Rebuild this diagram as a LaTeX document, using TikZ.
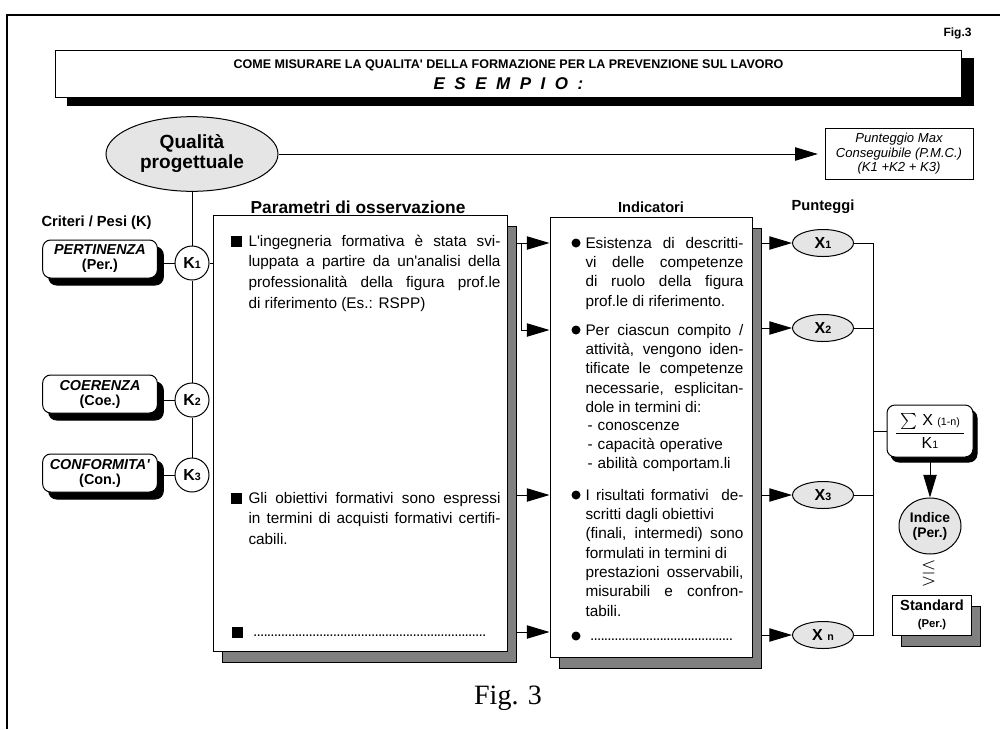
\documentclass[tikz,border=0pt]{standalone}
\usepackage{fontspec}
\usepackage{amsmath,amssymb}
\setmainfont{Liberation Sans}
\newfontfamily\serifa{Liberation Serif}
\usetikzlibrary{arrows.meta,shapes.geometric,shadows}

\definecolor{grigiochiaro}{gray}{0.9}
\definecolor{grigioombra}{gray}{0.5}

\newcommand{\ap}{\textquotesingle}
\newcommand{\pedice}[1]{{\fontsize{8}{8}\selectfont #1}}
\newcommand{\lspz}{\hspace{.56em}}
\newcommand{\puntini}[1]{\hbox to #1{\leaders\hbox to 2.6pt{\hss.\hss}\hfill}}

\tikzset{
  freccia/.style={-{Triangle[length=17pt,width=10pt]}},
  testo/.style={inner sep=0pt, anchor=base west, align=justify},
  corpo/.style={testo, text width=189pt, font=\fontsize{11.5}{15.5}\selectfont},
  voce/.style={testo, text width=118.5pt, font=\fontsize{11.5}{14.5}\selectfont},
  quadretto/.style={fill=black, minimum size=8.25pt, inner sep=0pt},
  punto/.style={circle, fill=black, minimum size=6.75pt, inner sep=0pt},
  scatola/.style={draw, fill=white, inner sep=0pt,
    copy shadow={shadow xshift=6.75pt, shadow yshift=-8.25pt, fill=grigioombra, draw=black}},
  criterio/.style={draw, fill=white, rounded corners=6pt, minimum width=86pt, minimum height=28.5pt,
    align=center, inner sep=0pt, font=\bfseries\fontsize{10.8}{11.25}\selectfont,
    copy shadow={shadow xshift=4.5pt, shadow yshift=-5.25pt, fill=black, draw=black}},
  cerchiok/.style={circle, draw, fill=white, minimum size=25.5pt, inner sep=0pt,
    font=\bfseries\fontsize{12}{12}\selectfont},
  xnodo/.style={ellipse, draw, fill=grigiochiaro, minimum width=45.75pt, minimum height=20.25pt,
    inner sep=0pt, font=\bfseries\fontsize{12}{12}\selectfont},
  titoletto/.style={inner sep=0pt, font=\bfseries\fontsize{11}{11}\selectfont}
}

\begin{document}
\begin{tikzpicture}[x=0.75pt, y=-0.75pt, line width=0.75pt]
  \useasboundingbox (0,0) rectangle (1000,729);
  \draw[line width=1.5pt] (1000,15) -- (7,15) -- (7,729);

  \node[anchor=east, inner sep=0pt, font=\bfseries\fontsize{9}{9}\selectfont] (numfig) at (972,33) {Fig.3};
  \node[draw, fill=white, minimum width=680pt, minimum height=35.25pt, inner sep=0pt,
    copy shadow={shadow xshift=9pt, shadow yshift=-6pt, fill=black, draw=black}] (banner) at (508.5,73.5) {};
  \node[inner sep=0pt, font=\bfseries\fontsize{9.4}{9.4}\selectfont] (titolo) at (508.5,65)
    {COME MISURARE LA QUALITA\ap{} DELLA FORMAZIONE PER LA PREVENZIONE SUL LAVORO};
  \node[inner sep=0pt, font=\bfseries\itshape\fontsize{12.75}{12.75}\selectfont] (esempio) at (508.5,84)
    {E\lspz S\lspz E\lspz M\lspz P\lspz I\lspz O\lspz :};

  \node[ellipse, draw, fill=grigiochiaro, minimum width=129pt, minimum height=56pt, inner sep=0pt,
    align=center, font=\bfseries\fontsize{14.3}{15}\selectfont] (qual) at (192,154) {Qualità\\progettuale};
  \node[draw, minimum width=111pt, minimum height=38pt, inner sep=0pt, align=center,
    font=\itshape\fontsize{9.8}{10.9}\selectfont] (pmc) at (899,154)
    {Punteggio Max\\Conseguibile (P.M.C.)\\(K1 +K2 + K3)};
  \draw[freccia, shorten >=5pt] (qual.east) -- (qual.east -| pmc.west);

  \node[titoletto, anchor=west] (criteri) at (41,223) {Criteri / Pesi (K)};
  \node[criterio] (per) at (100,259) {\textit{PERTINENZA}\\(Per.)};
  \node[criterio] (coe) at (100,394) {\textit{COERENZA}\\(Coe.)};
  \node[criterio] (con) at (100,473) {\textit{CONFORMITA\ap}\\(Con.)};
  \node[cerchiok] (k1) at (192,263) {K\pedice{1}};
  \node[cerchiok] (k2) at (192,400) {K\pedice{2}};
  \node[cerchiok] (k3) at (192,475) {K\pedice{3}};
  \draw (qual) -- (k1) -- (k2) -- (k3);
  \draw (per.east |- k1) -- (k1);
  \draw (coe.east |- k2) -- (k2);
  \draw (con.east |- k3) -- (k3);

  \node[inner sep=0pt, font=\bfseries\fontsize{13}{13}\selectfont] (parhead) at (358,207) {Parametri di osservazione};
  \node[titoletto] (indhead) at (651,207) {Indicatori};
  \node[titoletto] (punhead) at (823,207) {Punteggi};

  \node[scatola, minimum width=220.5pt, minimum height=327pt] (param) at (360,433) {};
  \node[scatola, minimum width=151.5pt, minimum height=330pt] (indic) at (651,437) {};
  \coordinate (parombra) at (516,433);
  \coordinate (indombra) at (761,437);
  \coordinate (bivio) at (521,243);
  \draw (k1) -- (k1 -| param.west);

  \node[quadretto] (q1) at (236,241) {};
  \node[quadretto] (q2) at (236,498) {};
  \node[quadretto] (q3) at (237,632) {};
  \node[corpo] (p1) at (248,246) {L\ap ingegneria formativa è stata svi-\linebreak luppata a partire da un\ap analisi della\linebreak professionalità della figura prof.le\linebreak di riferimento (Es.: RSPP)};
  \node[corpo] (p2) at (248,503) {Gli obiettivi formativi sono espressi\linebreak in termini di acquisti formativi certifi-\linebreak cabili.};
  \node[testo, font=\fontsize{11.5}{11.5}\selectfont] (p3) at (253,636) {\puntini{175pt}};

  \node[punto] (c1) at (576,243) {};
  \node[punto] (c2) at (576,330) {};
  \node[punto] (c3) at (576,495) {};
  \node[punto] (c4) at (576,636) {};
  \node[voce] (i1) at (585,248) {Esistenza di descritti-\linebreak vi delle competenze\linebreak di ruolo della figura\linebreak prof.le di riferimento.};
  \node[voce] (i2) at (585,335) {Per ciascun compito /\linebreak attività, vengono iden-\linebreak tificate le competenze\linebreak necessarie, esplicitan-\linebreak dole in termini di:};
  \node[voce, align=left] (lista) at (587,430) {- conoscenze\\- capacità operative\\- abilità comportam.li};
  \node[voce] (i3) at (585,500) {I risultati formativi \ de-\linebreak scritti dagli obiettivi\\(finali, intermedi) sono\linebreak formulati in termini di\\prestazioni osservabili,\linebreak misurabili e confron-\linebreak tabili.};
  \node[testo, font=\fontsize{11.5}{11.5}\selectfont] (i4) at (590,640) {\puntini{109pt}};

  \draw[freccia] (parombra |- c1) -- (c1 -| indic.west);
  \draw[freccia] (bivio) |- (c2 -| indic.west);
  \draw[freccia] (parombra |- c3) -- (c3 -| indic.west);
  \draw[freccia] (parombra |- q3) -- (q3 -| indic.west);

  \node[xnodo] (x1) at (823,243) {X\pedice{1}};
  \node[xnodo] (x2) at (823,328) {X\pedice{2}};
  \node[xnodo] (x3) at (823,495) {X\pedice{3}};
  \node[xnodo] (xn) at (823,635) {X \pedice{n}};
  \draw[freccia] (indombra |- x1) -- (x1);
  \draw[freccia] (indombra |- x2) -- (x2);
  \draw[freccia] (indombra |- x3) -- (x3);
  \draw[freccia] (indombra |- xn) -- (xn);

  \node[draw, fill=white, rounded corners=6pt, minimum width=64.5pt, minimum height=39pt, inner sep=0pt,
    copy shadow={shadow xshift=3pt, shadow yshift=-3.75pt, fill=black, draw=black},
    font=\fontsize{12}{14}\selectfont] (formula) at (930,431)
    {$\genfrac{}{}{0.9pt}{0}{\hspace{3pt}\sum\,\text{X}\;\text{\fontsize{8}{8}\selectfont(1-n)}\hspace{3pt}}{\text{K\pedice{1}}}$};
  \coordinate (nodo) at (873,431);
  \draw (x1.east) -| (nodo);
  \draw (xn.east) -| (nodo);
  \draw (x2.east) -- (x2.east -| nodo);
  \draw (x3.east) -- (x3.east -| nodo);
  \draw (nodo) -- (formula.west);

  \node[ellipse, draw, fill=grigiochiaro, minimum width=46.5pt, minimum height=42pt, inner sep=0pt,
    align=center, font=\bfseries\fontsize{10.4}{11.25}\selectfont] (indice) at (930,526) {Indice\\(Per.)};
  \draw[freccia] (formula) -- (indice);
  \node[inner sep=0pt, font=\fontsize{15}{15}\selectfont] (confronto) at (929,573) {$\lesseqgtr$};
  \node[draw, fill=white, minimum width=59.25pt, minimum height=30pt, inner sep=0pt, align=center,
    copy shadow={shadow xshift=6.75pt, shadow yshift=-8.25pt, fill=grigioombra, draw=black},
    font=\bfseries\fontsize{11}{12.75}\selectfont] (std) at (932,615) {Standard\\{\fontsize{8.5}{10}\selectfont(Per.)}};

  \node[inner sep=0pt, font=\serifa\fontsize{21}{21}\selectfont] (didascalia) at (508,698) {Fig. 3};
\end{tikzpicture}
\end{document}
